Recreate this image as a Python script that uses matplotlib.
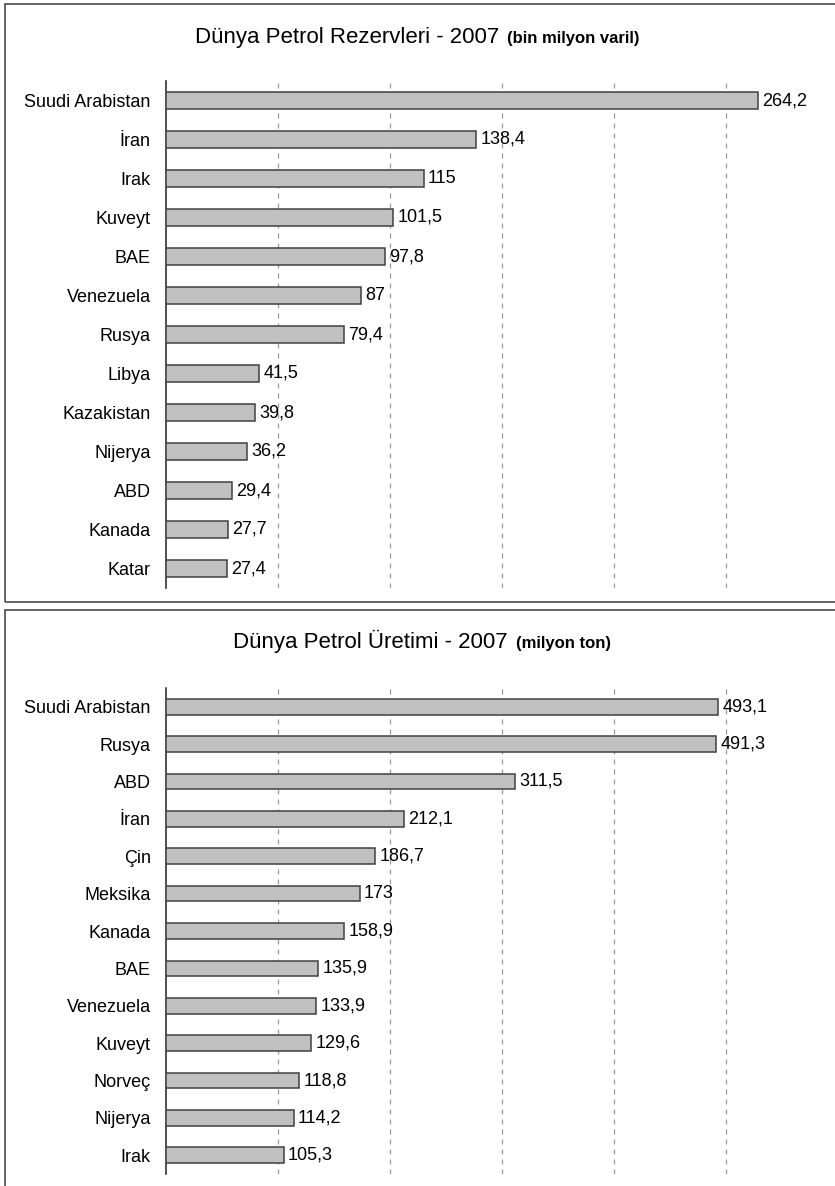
import matplotlib
matplotlib.use("Agg")
import matplotlib.pyplot as plt
from matplotlib.patches import Rectangle

plt.rcParams['font.family'] = ['Liberation Sans', 'DejaVu Sans']

# Reserves 2007 (thousand million barrels)
reserve_countries = ["Suudi Arabistan", "İran", "Irak", "Kuveyt", "BAE", "Venezuela",
                     "Rusya", "Libya", "Kazakistan", "Nijerya", "ABD", "Kanada", "Katar"]
reserve_values = [264.2, 138.4, 115, 101.5, 97.8, 87, 79.4, 41.5, 39.8, 36.2, 29.4, 27.7, 27.4]

# Production 2007 (million tonnes)
prod_countries = ["Suudi Arabistan", "Rusya", "ABD", "İran", "Çin", "Meksika", "Kanada",
                  "BAE", "Venezuela", "Kuveyt", "Norveç", "Nijerya", "Irak"]
prod_values = [493.1, 491.3, 311.5, 212.1, 186.7, 173, 158.9, 135.9, 133.9, 129.6, 118.8, 114.2, 105.3]

W, H = 835, 1186
fig = plt.figure(figsize=(W / 100, H / 100), dpi=100)
renderer = fig.canvas.get_renderer()


def px(x, y):
    # pixel position from the top-left corner -> figure fraction
    return x / W, 1 - y / H


# panel frames
for top, bottom in [(4, 602), (610, H + 20)]:
    x0, y0 = px(5, bottom)
    x1, y1 = px(W + 20, top)
    fig.patches.append(Rectangle((x0, y0), x1 - x0, y1 - y0, transform=fig.transFigure,
                                 fill=False, edgecolor="#3a3a3a", linewidth=1.1))


def panel(y_top, y_bot, countries, values, xmax, step, title, unit, title_x, title_base):
    left, bottom = px(166, y_bot)
    ax = fig.add_axes([left, bottom, 672 / W, (y_bot - y_top) / H])
    pos = range(len(countries))
    ax.barh(pos, values, height=0.42, color="#c0c0c0", edgecolor="#404040", linewidth=1.1, zorder=3)
    ax.set_ylim(len(countries) - 0.5, -0.5)
    ax.set_xlim(0, xmax)
    ax.set_yticks(list(pos))
    ax.set_yticklabels(countries, fontsize=13)
    ax.tick_params(axis="y", length=0, pad=11)
    ax.set_xticks([])
    for g in range(step, xmax + 1, step):
        ax.axvline(g, color="#9a9a9a", linewidth=0.9, linestyle=(0, (4, 4)), zorder=1)
    for s in ["top", "right", "bottom"]:
        ax.spines[s].set_visible(False)
    ax.spines["left"].set_color("#202020")
    ax.spines["left"].set_linewidth(1.1)
    for i, v in enumerate(values):
        ax.annotate(f"{v:g}".replace(".", ","), xy=(v, i), xytext=(3, 0),
                    textcoords="offset points", va="center", ha="left", fontsize=13)

    # title: regular part, then the unit in smaller bold on the same baseline
    tx, ty = px(title_x, title_base)
    t1 = fig.text(tx, ty, title, fontsize=16, ha="left", va="baseline")
    bb = t1.get_window_extent(renderer)
    fig.text((bb.x1 + 8) / W, ty, unit, fontsize=12, fontweight="bold",
             ha="left", va="baseline")
    return ax


panel(81, 588, reserve_countries, reserve_values, 300, 50,
      "Dünya Petrol Rezervleri - 2007", "(bin milyon varil)", 195, 43)
panel(688, 1174, prod_countries, prod_values, 600, 100,
      "Dünya Petrol Üretimi - 2007", "(milyon ton)", 233, 648)

fig.savefig("out.png", dpi=100)
